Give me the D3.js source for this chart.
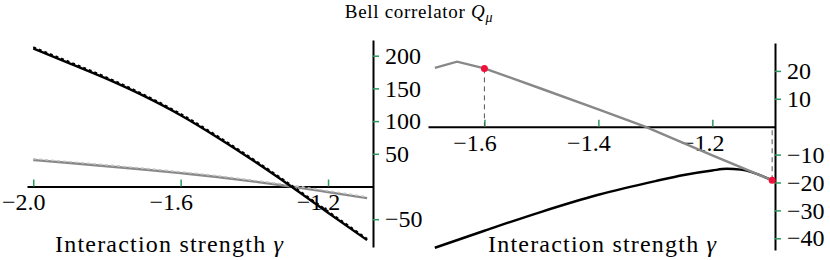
<!DOCTYPE html>
<html>
<head>
<meta charset="utf-8">
<script src="https://cdn.jsdelivr.net/npm/d3@7"></script>
</head>
<body style="margin:0">
<div class="chart-container"></div>
<script>
// left panel data (wide range of gamma)
const leftGamma = [-2.0, -1.9, -1.8, -1.7, -1.6, -1.5, -1.4, -1.3, -1.2, -1.094];
const leftBlack = [211, 188, 164.5, 138.5, 109, 75, 38.5, 0, -40, -82];
const leftGray  = [40.5, 36, 31, 26, 20.5, 14.5, 7.5, 0, -8.5, -17.7];
const leftXTicks = [-2.0, -1.6, -1.2];
const leftYTicks = [200, 150, 100, 50, -50];

// right panel data (zoom)
const rightGrayGamma = [-1.687, -1.648, -1.6, -1.5, -1.4, -1.318, -1.2, -1.095];
const rightGray      = [21.1, 23.3, 20.9, 13.6, 6.2, 0, -10.3, -19.2];
const rightBlackGamma = [-1.687, -1.6, -1.5, -1.4, -1.3, -1.25, -1.2, -1.175, -1.15, -1.095];
const rightBlack      = [-43.4, -37.3, -30.5, -24.4, -19.5, -17.3, -15.7, -15.1, -15.4, -19.2];
const markGamma = [-1.6, -1.095];
const markValue = [20.9, -19.2];
const rightXTicks = [-1.6, -1.4, -1.2];
const rightYTicks = [20, 10, -10, -20, -30, -40];

const tickGreen = '#2b9a5e';
const fontSerif = '"Liberation Serif", serif';

const svg = d3.select('.chart-container').append('svg')
  .attr('width', 830).attr('height', 260)
  .style('display', 'block');

// title
const title = svg.append('text')
  .attr('x', 419).attr('y', 18)
  .attr('text-anchor', 'middle')
  .style('font-family', fontSerif)
  .style('font-size', '19px')
  .style('letter-spacing', '0.7px');
title.append('tspan').text('Bell correlator ');
title.append('tspan').text('Q').style('font-style', 'italic');
title.append('tspan').text('μ').style('font-style', 'italic')
  .style('font-size', '14px').attr('dy', 4);

function zip(xs, ys) { return xs.map((x, i) => ({g: x, v: ys[i]})); }

function drawAxes(g, x, y, xTicks, yTicks, padX) {
  const xAxis = d3.axisBottom(x).tickValues(xTicks)
    .tickFormat(d3.format('.1f'))
    .tickSizeInner(-7).tickSizeOuter(0).tickPadding(padX);
  const xg = g.append('g').attr('class', 'x axis')
    .attr('transform', `translate(0,${y(0)})`).call(xAxis);
  xg.attr('font-family', fontSerif).attr('font-size', 24);
  xg.select('.domain').attr('stroke', '#000').attr('stroke-width', 2);
  xg.selectAll('.tick line').attr('stroke', tickGreen).attr('stroke-width', 1.5);
  xg.selectAll('.tick text').attr('fill', '#000').attr('dx', -10)
    .style('font-family', fontSerif).style('font-size', '24px');

  const yAxis = d3.axisRight(y).tickValues(yTicks)
    .tickFormat(d3.format('d'))
    .tickSizeInner(6).tickSizeOuter(0).tickPadding(6);
  const yg = g.append('g').attr('class', 'y axis')
    .attr('transform', `translate(${x.range()[1]},0)`).call(yAxis);
  yg.attr('font-family', fontSerif).attr('font-size', 24);
  yg.select('.domain').attr('stroke', '#000').attr('stroke-width', 2);
  yg.selectAll('.tick line').attr('stroke', tickGreen).attr('stroke-width', 1.5);
  yg.selectAll('.tick text').attr('fill', '#000')
    .style('font-family', fontSerif).style('font-size', '24px');
}

function axisLabel(cx) {
  const t = svg.append('text')
    .attr('x', cx).attr('y', 252)
    .attr('text-anchor', 'middle')
    .attr('textLength', 228).attr('lengthAdjust', 'spacing')
    .style('font-family', fontSerif)
    .style('font-size', '24px');
  t.append('tspan').text('Interaction strength ');
  t.append('tspan').text('γ').style('font-style', 'italic');
}

// ---- left panel
const xL = d3.scaleLinear().domain([-2.017, -1.078]).range([27, 373]);
const yL = d3.scaleLinear().domain([-92.5, 224]).range([247, 40]);
const gL = svg.append('g');
drawAxes(gL, xL, yL, leftXTicks, leftYTicks, 6);

const lineL = d3.line().x(d => xL(d.g)).y(d => yL(d.v)).curve(d3.curveMonotoneX);
gL.append('path').datum(zip(leftGamma, leftGray))
  .attr('d', lineL).attr('fill', 'none').attr('stroke', '#888').attr('stroke-width', 2.4);
gL.append('path').datum(zip(leftGamma, leftGray))
  .attr('d', lineL).attr('fill', 'none').attr('stroke', '#c4c4c4').attr('stroke-width', 1.6)
  .attr('stroke-dasharray', '3,3').attr('transform', 'translate(0,-1.2)');
gL.append('path').datum(zip(leftGamma, leftBlack))
  .attr('d', lineL).attr('fill', 'none').attr('stroke', '#000').attr('stroke-width', 2.4);
gL.append('path').datum(zip(leftGamma, leftBlack))
  .attr('d', lineL).attr('fill', 'none').attr('stroke', '#000').attr('stroke-width', 2)
  .attr('stroke-dasharray', '3,3').attr('transform', 'translate(0,-1.3)');
axisLabel(169);

// ---- right panel
const xR = d3.scaleLinear().domain([-1.699, -1.09]).range([428, 775]);
const yR = d3.scaleLinear().domain([-44.2, 30]).range([250, 43]);
const gR = svg.append('g');
drawAxes(gR, xR, yR, rightXTicks, rightYTicks, 7);

const marks = zip(markGamma, markValue);
gR.selectAll('.drop').data(marks).enter().append('line')
  .attr('class', 'drop')
  .attr('x1', d => xR(d.g)).attr('x2', d => xR(d.g))
  .attr('y1', d => yR(d.v)).attr('y2', yR(0))
  .attr('stroke', '#555').attr('stroke-width', 1).attr('stroke-dasharray', '5,4');

gR.append('path').datum(zip(rightBlackGamma, rightBlack))
  .attr('d', d3.line().x(d => xR(d.g)).y(d => yR(d.v)).curve(d3.curveMonotoneX))
  .attr('fill', 'none').attr('stroke', '#000').attr('stroke-width', 2.4);
gR.append('path').datum(zip(rightGrayGamma, rightGray))
  .attr('d', d3.line().x(d => xR(d.g)).y(d => yR(d.v)))
  .attr('fill', 'none').attr('stroke', '#888').attr('stroke-width', 2.4);

gR.selectAll('.mark').data(marks).enter().append('circle')
  .attr('class', 'mark')
  .attr('cx', d => xR(d.g)).attr('cy', d => yR(d.v)).attr('r', 3.5)
  .attr('fill', '#f0103a');
axisLabel(602);
</script>
</body>
</html>
